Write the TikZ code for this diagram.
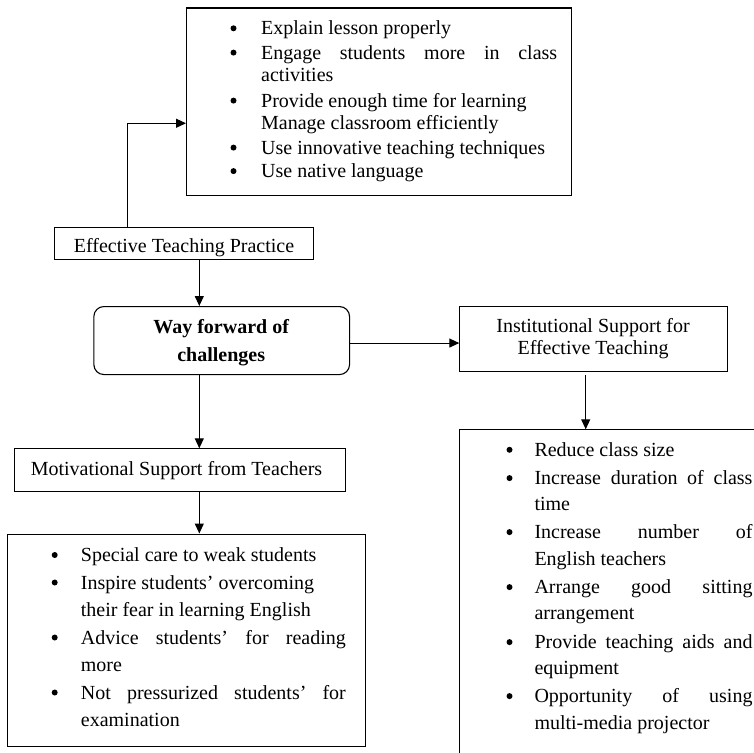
\documentclass[tikz,border=0pt]{standalone}
\usepackage{fontspec}
\setmainfont{Liberation Serif}
\usetikzlibrary{calc,arrows.meta}
\tikzset{
  box/.style={draw, line width=1.1pt, inner sep=0pt, anchor=north west},
  arr/.style={line width=1.1pt, -{Triangle[length=10pt,width=9pt]}},
  txt/.style={inner sep=0pt},
}
\newcommand{\jline}[2]{\makebox[#1][s]{#2}}
\newcommand{\bul}{\tikz[baseline=-6.7pt]\fill (0,0) circle[radius=3pt];}

\begin{document}
\begin{tikzpicture}[x=1pt,y=-1pt]
        \useasboundingbox (0,0) rectangle (754,752);
        %Boxes
        \node[box, minimum width=385pt, minimum height=187pt] (topbox) at (186,7.5) {};
        \node[box, minimum width=259pt, minimum height=32.6pt] (etp) at (54.3,226.7) {};
        \node[box, rounded corners=10pt, minimum width=255.7pt, minimum height=68pt] (wf) at (93.3,306) {};
        \node[box, minimum width=267.4pt, minimum height=64.7pt] (inst) at (459.3,306) {};
        \node[box, minimum width=330.7pt, minimum height=42.4pt] (mot) at (14.3,448.3) {};
        \node[box, minimum width=358pt, minimum height=212pt] (lbox) at (7,533.5) {};
        \node[box, minimum width=330pt, minimum height=340pt] (rbox) at (459.3,429.3) {};
        %Titles
        \node[txt, font=\fontsize{20}{24}\selectfont, anchor=base] (etptxt) at (184,252.7) {Effective Teaching Practice};
        \node[txt, font=\fontsize{20}{27.7}\selectfont\bfseries, anchor=base] (wftxt) at (221.2,333.3)
          {\begin{tabular}[t]{@{}c@{}}Way forward of\\ challenges\end{tabular}};
        \node[txt, font=\fontsize{20}{21.7}\selectfont, anchor=base] (insttxt) at (593,332.3)
          {\begin{tabular}[t]{@{}c@{}}Institutional Support for\\ Effective Teaching\end{tabular}};
        \node[txt, font=\fontsize{20}{24}\selectfont, anchor=base] (mottxt) at (176.5,475) {Motivational Support from Teachers};
        %Lists
        \node[txt, font=\fontsize{20}{22}\selectfont, anchor=base west] (toplist) at (230.3,35)
          {\begin{tabular}[t]{@{}l@{\hspace{24.7pt}}l@{}}
           \bul & Explain lesson properly\\[2.3pt]
           \bul & \jline{296pt}{Engage students more in class}\\
                & activities\\[4pt]
           \bul & Provide enough time for learning\\
                & Manage classroom efficiently\\[3pt]
           \bul & Use innovative teaching techniques\\[1.5pt]
           \bul & Use native language
           \end{tabular}};
        \node[txt, font=\fontsize{20}{27.5}\selectfont, anchor=base west] (leftlist) at (51.5,561.7)
          {\begin{tabular}[t]{@{}l@{\hspace{23.2pt}}l@{}}
           \bul & Special care to weak students\\
           \bul & Inspire students' overcoming\\
                & their fear in learning English\\
           \bul & \jline{265pt}{Advice students' for reading}\\
                & more\\
           \bul & \jline{265pt}{Not pressurized students' for}\\
                & examination
           \end{tabular}};
        \node[txt, font=\fontsize{20}{26}\selectfont, anchor=base west] (rightlist) at (506.3,456.5)
          {\begin{tabular}[t]{@{}l@{\hspace{22pt}}l@{}}
           \bul & Reduce class size\\[2.3pt]
           \bul & \jline{218pt}{Increase duration of class}\\
                & time\\[2pt]
           \bul & \jline{218pt}{Increase number of}\\[1pt]
                & English teachers\\[2pt]
           \bul & \jline{218pt}{Arrange good sitting}\\
                & arrangement\\[3pt]
           \bul & \jline{218pt}{Provide teaching aids and}\\
                & equipment\\[2pt]
           \bul & \jline{218pt}{Opportunity of using}\\[1pt]
                & multi-media projector
           \end{tabular}};
        %Arrows
        \draw[arr] ($(etp.north west)+(73.4,0)$) |- ($(topbox.west)+(0,21.7)$);
        \draw[arr] ($(etp.south west)+(145,0)$) coordinate (e1) -- (e1 |- wf.north);
        \draw[arr] ($(wf.east)+(0,2.5)$) coordinate (w1) -- (w1 -| inst.west);
        \draw[arr, shorten <=3.5pt] ($(inst.south west)+(126.4,0)$) coordinate (i1) -- (i1 |- rbox.north);
        \draw[arr] ($(wf.south west)+(106,0)$) coordinate (w2) -- (w2 |- mot.north);
        \draw[arr] ($(mot.south west)+(185,0)$) coordinate (m1) -- (m1 |- lbox.north);
\end{tikzpicture}
\end{document}
